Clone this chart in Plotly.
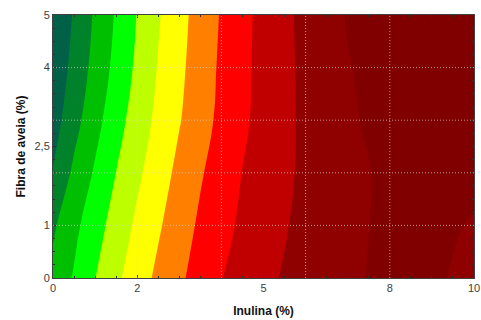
import plotly.graph_objects as go

# Grid of the response surface: Inulina (%) across, Fibra de aveia (%) up
inulina = [0, 0.5, 1, 1.5, 2, 2.5, 3, 3.5, 4, 4.5, 5, 6, 7, 8, 9, 10]
fibra = [0, 1, 2, 3, 4, 5]

resp_f0 = [2.29, 3.09, 3.98, 4.80, 5.54, 6.21, 6.83, 7.40, 7.97, 8.39, 8.80, 9.35, 9.81, 10.27, 10.20, 9.64]
resp_f1 = [1.84, 2.75, 3.59, 4.41, 5.19, 5.88, 6.54, 7.16, 7.69, 8.18, 8.60, 9.26, 9.75, 10.23, 10.25, 9.92]
resp_f2 = [1.07, 2.20, 3.12, 4.01, 4.81, 5.55, 6.25, 6.90, 7.47, 8.02, 8.45, 9.19, 9.71, 10.24, 10.35, 10.30]
resp_f3 = [0.57, 1.65, 2.67, 3.60, 4.47, 5.25, 5.94, 6.61, 7.24, 7.82, 8.34, 9.20, 9.82, 10.44, 10.50, 10.45]
resp_f4 = [0.27, 1.31, 2.33, 3.29, 4.19, 5.06, 5.79, 6.49, 7.16, 7.77, 8.31, 9.23, 9.94, 10.50, 10.60, 10.60]
resp_f5 = [0.06, 1.10, 2.14, 3.11, 4.04, 4.91, 5.68, 6.40, 7.08, 7.72, 8.30, 9.27, 10.07, 10.55, 10.70, 10.70]

# Contour levels and band colours (lowest band first)
level_start, level_end, level_step = 1, 10, 1
band_colors = [
    "rgb(0,96,72)", "rgb(0,130,42)", "rgb(0,190,0)", "rgb(0,255,0)",
    "rgb(190,255,0)", "rgb(255,255,0)", "rgb(255,128,0)", "rgb(255,0,0)",
    "rgb(192,0,0)", "rgb(143,0,0)", "rgb(128,0,0)",
]

x_tickvals = [0, 2, 5, 8, 10]
x_ticktext = ["0", "2", "5", "8", "10"]
y_tickvals = [0, 1, 2.5, 4, 5]
y_ticktext = ["0", "1", "2,5", "4", "5"]
x_grid = [2, 4, 6, 8]
y_grid = [1, 2, 3, 4]

# stepped colour scale: one flat step per band
n = len(band_colors)
colorscale = []
for i, c in enumerate(band_colors):
    colorscale.append([i / n, c])
    colorscale.append([(i + 1) / n, c])

z = [resp_f0, resp_f1, resp_f2, resp_f3, resp_f4, resp_f5]

fig = go.Figure(go.Contour(
    x=inulina, y=fibra, z=z,
    contours=dict(start=level_start, end=level_end, size=level_step, coloring="fill"),
    colorscale=colorscale, zmin=level_start - 1, zmax=level_end + 1,
    line=dict(width=0, smoothing=1.3),
    showscale=False, hoverinfo="skip",
))

grid_line = dict(color="rgba(215,215,215,0.7)", width=1, dash="1px,2px")
shapes = []
for gx in x_grid:
    shapes.append(dict(type="line", xref="x", yref="paper", x0=gx, x1=gx, y0=0, y1=1,
                       line=grid_line, layer="above"))
for gy in y_grid:
    shapes.append(dict(type="line", xref="paper", yref="y", x0=0, x1=1, y0=gy, y1=gy,
                       line=grid_line, layer="above"))

axis_common = dict(
    showline=True, linecolor="#404040", linewidth=1, mirror="allticks",
    ticks="inside", ticklen=3, tickcolor="#303030", showgrid=False, zeroline=False,
    layer="above traces", ticklabeloverflow="allow",
    tickfont=dict(family="Liberation Sans, Arial, sans-serif", size=11, color="#404040"),
)

fig.update_layout(
    width=481, height=320,
    margin=dict(l=53, r=7, t=15, b=42),
    paper_bgcolor="white", plot_bgcolor="white",
    shapes=shapes,
    xaxis=dict(
        range=[0, 10], tickmode="array", tickvals=x_tickvals, ticktext=x_ticktext,
        minor=dict(dtick=0.5, ticks="inside", ticklen=2, tickcolor="#303030", showgrid=False),
        title=dict(text="Inulina (%)", standoff=13,
                   font=dict(family="Liberation Sans, Arial, sans-serif", size=12, color="#111")),
        **axis_common,
    ),
    yaxis=dict(
        range=[0, 5], tickmode="array", tickvals=y_tickvals, ticktext=y_ticktext,
        minor=dict(dtick=0.25, ticks="inside", ticklen=2, tickcolor="#303030", showgrid=False),
        title=dict(text="Fibra de aveia (%)", standoff=6,
                   font=dict(family="Liberation Sans, Arial, sans-serif", size=12, color="#111")),
        **axis_common,
    ),
    font=dict(family="Liberation Sans, Arial, sans-serif"),
)
fig.update_xaxes(title_font_weight="bold", automargin=False)
fig.update_yaxes(title_font_weight="bold", automargin=False)

fig.write_html("out.html")
